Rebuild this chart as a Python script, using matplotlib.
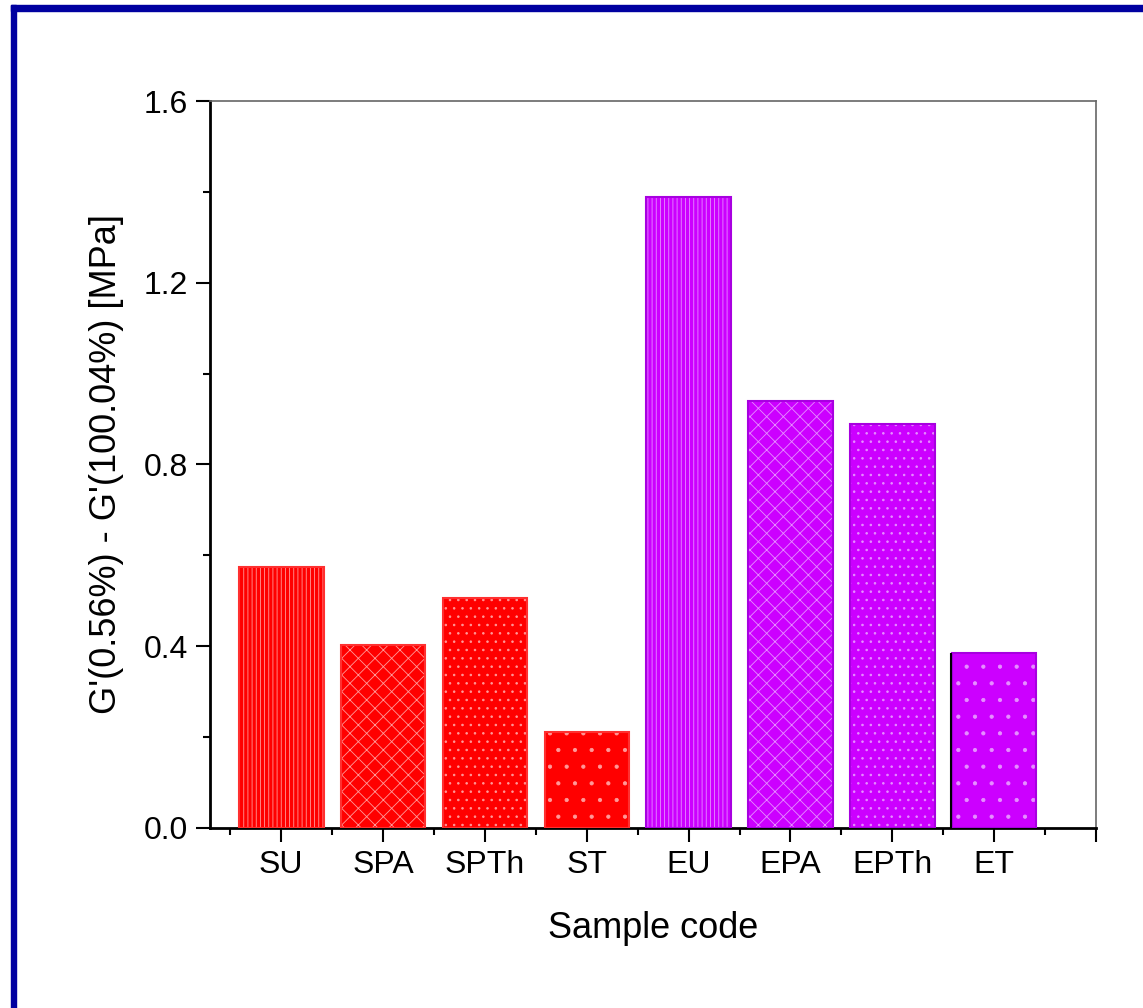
import numpy as np
import matplotlib.pyplot as plt
from matplotlib.patches import Rectangle
from matplotlib.ticker import MultipleLocator, FixedLocator

plt.rcParams['font.family'] = ['Liberation Sans', 'DejaVu Sans']
plt.rcParams['hatch.linewidth'] = 0.6

# data
samples = ["SU", "SPA", "SPTh", "ST", "EU", "EPA", "EPTh", "ET"]
values = [0.574, 0.403, 0.506, 0.211, 1.389, 0.940, 0.889, 0.385]
fill_colors = ["#FF0000"] * 4 + ["#CC00FF"] * 4
edge_colors = ["#FF3030"] * 4 + ["#A800E0"] * 4
hatch_colors = ["#FF9A9A"] * 4 + ["#E690FF"] * 4
hatches = ["||||", "xx", "..", ".", "||||", "xx", "..", "."]

fig = plt.figure(figsize=(11.43, 10.08), dpi=100)

# navy frame on top and left
fig.patches.append(Rectangle((0.0096, 0), 0.0044, 0.995, transform=fig.transFigure,
                             color="#0000A0", zorder=0))
fig.patches.append(Rectangle((0.0096, 0.989), 0.99, 0.006, transform=fig.transFigure,
                             color="#0000A0", zorder=0))

ax = fig.add_axes([0.1837, 0.1786, 0.7752, 0.7212])

x = np.arange(1, len(samples) + 1)
width = 0.83
ax.bar(x, values, width, color=fill_colors, edgecolor=hatch_colors,
       linewidth=0, hatch=hatches, zorder=2)
ax.bar(x, values, width, fill=False, edgecolor=edge_colors, linewidth=1.5, zorder=3)

# stray line at the left of the last bar
ax.vlines(x[-1] - width / 2 - 0.005, 0, values[-1], color="black", linewidth=1.5, zorder=4)

ax.set_xlim(0.3, 9.0)
ax.set_ylim(0, 1.6)

ax.xaxis.set_major_locator(FixedLocator(np.arange(1, 10)))
ax.set_xticklabels(samples + [""])
ax.xaxis.set_minor_locator(FixedLocator(np.arange(0.5, 9.0, 1.0)))
ax.yaxis.set_major_locator(MultipleLocator(0.4))
ax.yaxis.set_minor_locator(MultipleLocator(0.2))
ax.yaxis.set_major_formatter(plt.FormatStrFormatter('%.1f'))

ax.tick_params(which='major', length=10, width=1.5, labelsize=23, pad=6)
ax.tick_params(which='minor', length=5, width=1.5)

for side in ['left', 'bottom']:
    ax.spines[side].set_linewidth(2)
    ax.spines[side].set_color('black')
for side in ['top', 'right']:
    ax.spines[side].set_linewidth(1.2)
    ax.spines[side].set_color('#666666')

ax.set_xlabel("Sample code", fontsize=26, labelpad=22)
ax.set_ylabel("G'(0.56%) - G'(100.04%) [MPa]", fontsize=26, labelpad=14)

fig.savefig("out.png", dpi=100)
